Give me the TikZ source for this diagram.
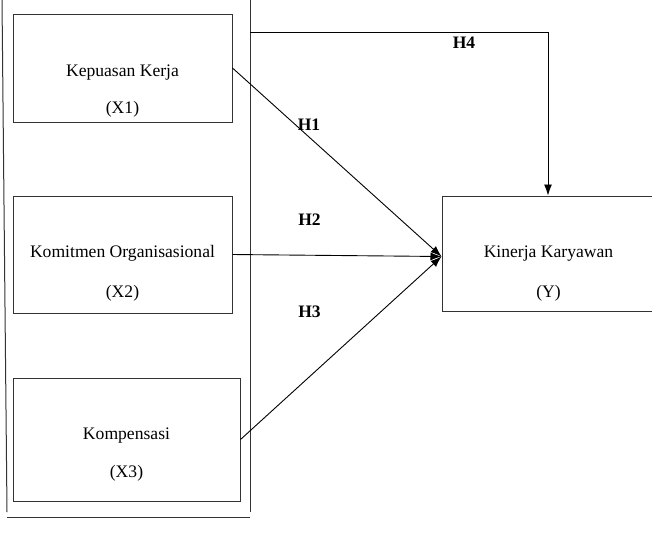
\documentclass[tikz,border=0pt]{standalone}
\usepackage{fontspec}
\setmainfont{Liberation Serif}
\usetikzlibrary{arrows.meta}

\begin{document}
\begin{tikzpicture}[x=1pt,y=-1pt,
  kotak/.style={draw=black!80,line width=1pt,minimum width=#1},
  teks/.style={anchor=base,font=\fontsize{17.6}{20}\selectfont},
  hipo/.style={font=\fontsize{17.5}{20}\selectfont\bfseries},
  panah/.style={-{Latex[length=11pt,width=8pt]},line width=0.9pt}]
\clip (0,0) rectangle (652,536);
% variabel bebas
\node[kotak=219pt,minimum height=108pt] (X1) at (122.5,68) {};
\node[kotak=219pt,minimum height=117pt] (X2) at (122.5,254.5) {};
\node[kotak=227pt,minimum height=123pt] (X3) at (126.5,439.5) {};
\node[teks] (t1) at (122.5,76) {Kepuasan Kerja};
\node[teks] (k1) at (122.5,113) {(X1)};
\node[teks] (t2) at (122.5,257) {Komitmen Organisasional};
\node[teks] (k2) at (122.5,297) {(X2)};
\node[teks] (t3) at (126.5,439) {Kompensasi};
\node[teks] (k3) at (126.5,477) {(X3)};
% variabel terikat
\node[kotak=212pt,minimum height=115pt] (Y) at (548,253.5) {};
\node[teks] (ty) at (548.5,257) {Kinerja Karyawan};
\node[teks] (ky) at (548.5,297) {(Y)};
% kurung simultan
\coordinate (ka) at (2,0);
\coordinate (kb) at (7,512);
\coordinate (kc) at (250,0);
\coordinate (kd) at (250,512);
\coordinate (ke) at (7,517);
\coordinate (kf) at (250,517);
\draw[line width=1pt,black!80] (ka) -- (kb);
\draw[line width=1pt,black!80] (kc) -- (kd);
\draw[line width=1pt,black!80] (ke) -- (kf);
\coordinate (h4) at (250,32);
% hipotesis
\draw[panah] (X1.east) -- ([yshift=-3pt]Y.west);
\draw[panah] (X2.east) -- ([yshift=-3pt]Y.west);
\draw[panah] (X3.east) -- ([yshift=-3pt]Y.west);
\draw[panah] (h4) -| (Y.north);
\node[hipo] (H1) at (309,125) {H1};
\node[hipo] (H2) at (309.5,219.5) {H2};
\node[hipo] (H3) at (309.5,311.5) {H3};
\node[hipo] (H4) at (464,43) {H4};
\end{tikzpicture}
\end{document}
